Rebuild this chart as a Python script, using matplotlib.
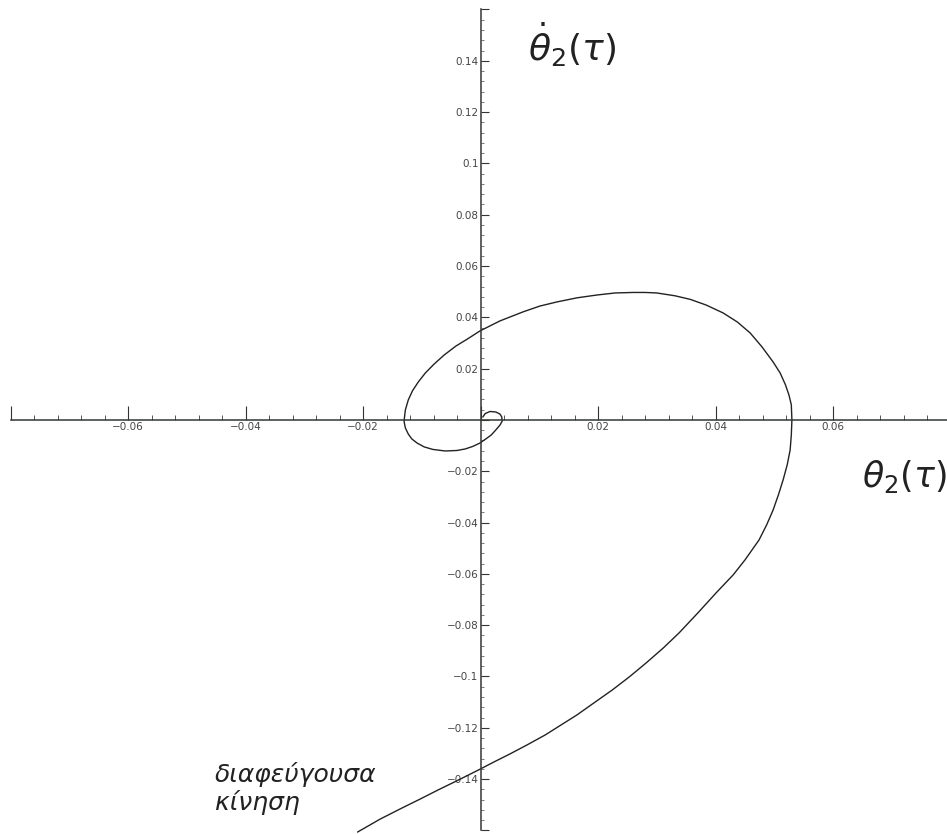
import matplotlib.pyplot as plt
from matplotlib.ticker import MultipleLocator

# trajectory (theta_2, d theta_2 / d tau)
theta2 = [0.0004, 0.0008, 0.0016, 0.0026, 0.0033, 0.0036, 0.0037,
          0.0033, 0.0026, 0.0018, 0.0009, -0.0001, -0.0013, -0.0026,
          -0.0040, -0.0060, -0.0081, -0.0096, -0.0108, -0.0117, -0.0123,
          -0.0128, -0.0130, -0.0130, -0.0128, -0.0123, -0.0116, -0.0106,
          -0.0094, -0.0079, -0.0062, -0.0042, -0.0022, -0.0001, 0.0033,
          0.0072, 0.0101, 0.0130, 0.0164, 0.0198, 0.0229, 0.0260, 0.0280,
          0.0300, 0.0331, 0.0357, 0.0384, 0.0413, 0.0437, 0.0459, 0.0479,
          0.0498, 0.0510, 0.0519, 0.0525, 0.0529, 0.0530, 0.0529, 0.0527,
          0.0522, 0.0515, 0.0507, 0.0498, 0.0487, 0.0474, 0.0450, 0.0430,
          0.0401, 0.0370, 0.0338, 0.0311, 0.0282, 0.0253, 0.0224, 0.0193,
          0.0164, 0.0137, 0.0110, 0.0079, 0.0050, 0.0023, -0.0004, -0.0038,
          -0.0072, -0.0103, -0.0134, -0.0171, -0.0209]
theta2_dot = [0.0012, 0.0025, 0.0033, 0.0031, 0.0023, 0.0012, -0.0004,
              -0.0020, -0.0039, -0.0059, -0.0074, -0.0090, -0.0103, -0.0113,
              -0.0119, -0.0121, -0.0115, -0.0105, -0.0090, -0.0074, -0.0055,
              -0.0031, -0.0008, 0.0000, 0.0039, 0.0078, 0.0113, 0.0148,
              0.0183, 0.0218, 0.0253, 0.0288, 0.0316, 0.0347, 0.0386, 0.0421,
              0.0444, 0.0460, 0.0476, 0.0487, 0.0495, 0.0497, 0.0497, 0.0495,
              0.0484, 0.0470, 0.0448, 0.0417, 0.0382, 0.0339, 0.0285, 0.0226,
              0.0183, 0.0137, 0.0097, 0.0059, 0.0000, -0.0058, -0.0117,
              -0.0175, -0.0234, -0.0292, -0.0351, -0.0409, -0.0468, -0.0546,
              -0.0604, -0.0674, -0.0752, -0.0830, -0.0889, -0.0947, -0.1002,
              -0.1053, -0.1103, -0.1150, -0.1189, -0.1228, -0.1267, -0.1302,
              -0.1333, -0.1365, -0.1404, -0.1442, -0.1478, -0.1513, -0.1556,
              -0.1606]

x_ticks = [-0.08, -0.06, -0.04, -0.02, 0.0, 0.02, 0.04, 0.06]
x_tick_labels = ["", "\u22120.06", "\u22120.04", "\u22120.02", "", "0.02", "0.04", "0.06"]
y_ticks = [-0.16, -0.14, -0.12, -0.1, -0.08, -0.06, -0.04, -0.02, 0.0,
           0.02, 0.04, 0.06, 0.08, 0.1, 0.12, 0.14, 0.16]
y_tick_labels = ["", "\u22120.14", "\u22120.12", "\u22120.1", "\u22120.08", "\u22120.06",
                 "\u22120.04", "\u22120.02", "", "0.02", "0.04", "0.06", "0.08",
                 "0.1", "0.12", "0.14", ""]

plt.rcParams["mathtext.fontset"] = "dejavusans"

fig = plt.figure(figsize=(9.47, 8.34), dpi=100)
ax = fig.add_axes([0, 0, 1, 1])
ax.set_xlim(-0.0818, 0.0794)
ax.set_ylim(-0.1614, 0.1637)

ax.plot(theta2, theta2_dot, color="#222222", linewidth=1.0,
        solid_joinstyle="round")

# axes through the origin, Mathematica style
for side in ["top", "right"]:
    ax.spines[side].set_visible(False)
ax.spines["left"].set_position(("data", 0))
ax.spines["bottom"].set_position(("data", 0))
ax.spines["left"].set_bounds(-0.16, 0.16)
ax.spines["bottom"].set_bounds(-0.08, 0.0794)
for side in ["left", "bottom"]:
    ax.spines[side].set_color("#333833")
    ax.spines[side].set_linewidth(1.1)

ax.set_xticks(x_ticks, x_tick_labels)
ax.set_yticks(y_ticks, y_tick_labels)
ax.xaxis.set_minor_locator(MultipleLocator(0.004))
ax.yaxis.set_minor_locator(MultipleLocator(0.004))

ax.tick_params(axis="x", which="major", direction="in", length=10, width=0.8,
               pad=1.5, labelsize=7.5, labelcolor="#444444", color="#333333")
ax.tick_params(axis="x", which="minor", direction="in", length=3.5, width=0.7,
               color="#555555")
ax.tick_params(axis="y", which="major", direction="in", length=6, width=0.8,
               pad=1.5, labelsize=7.5, labelcolor="#444444", color="#333333")
ax.tick_params(axis="y", which="minor", direction="in", length=2.5, width=0.6,
               color="#666666")

ax.text(0.0080, 0.1400, r"$\dot{\theta}_2(\tau)$", fontsize=26, color="#222222",
        ha="left", va="baseline")
ax.text(0.0650, -0.0260, r"$\theta_2(\tau)$", fontsize=25, color="#222222",
        ha="left", va="baseline")

ax.text(-0.0452, -0.1411, "διαφεύγουσα", fontsize=18, style="italic",
        color="#222222", ha="left", va="baseline")
ax.text(-0.0452, -0.1520, "κίνηση", fontsize=18, style="italic",
        color="#222222", ha="left", va="baseline")

fig.savefig("out.png", dpi=100, facecolor="white")
